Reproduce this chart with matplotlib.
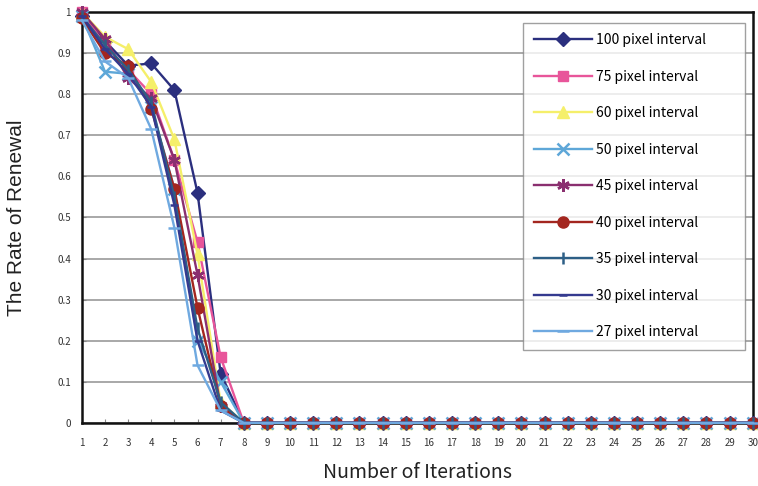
import matplotlib
matplotlib.use("Agg")
import matplotlib.pyplot as plt
import numpy as np

iterations = list(range(1, 31))
tail = [0.0] * 23  # iterations 8..30

labels = ["100 pixel interval", "75 pixel interval", "60 pixel interval",
          "50 pixel interval", "45 pixel interval", "40 pixel interval",
          "35 pixel interval", "30 pixel interval", "27 pixel interval"]

s100 = [0.99, 0.93, 0.87, 0.875, 0.81, 0.56, 0.12] + tail
s75 = [1.00, 0.92, 0.86, 0.80, 0.64, 0.44, 0.16] + tail
s60 = [1.00, 0.94, 0.91, 0.83, 0.69, 0.41, 0.05] + tail
s50 = [0.99, 0.855, 0.85, 0.77, 0.57, 0.20, 0.10] + tail
s45 = [1.00, 0.935, 0.84, 0.79, 0.64, 0.36, 0.04] + tail
s40 = [0.985, 0.90, 0.87, 0.765, 0.57, 0.28, 0.04] + tail
s35 = [0.99, 0.92, 0.86, 0.78, 0.55, 0.23, 0.05] + tail
s30 = [0.99, 0.91, 0.85, 0.77, 0.53, 0.20, 0.03] + tail
s27 = [0.98, 0.88, 0.84, 0.715, 0.475, 0.14, 0.03] + tail

series = [s100, s75, s60, s50, s45, s40, s35, s30, s27]
colors = ["#2b2f7e", "#e8559a", "#f5ef6a", "#5ea7d8", "#8a2f6f",
          "#a3261f", "#2d5f86", "#343a8f", "#6fa9e0"]
markers = ["D", "s", "^", "x", (6, 2, 0), "o", "|", "_", "_"]
msizes = [7, 7, 8, 8, 9, 8, 9, 6, 9]

fig = plt.figure(figsize=(7.58, 4.86), dpi=100)
ax = fig.add_axes([0.108, 0.13, 0.885, 0.845])

for ys, c, m, ms, lab in zip(series, colors, markers, msizes, labels):
    ax.plot(iterations, ys, color=c, marker=m, markersize=ms, linewidth=1.7,
            markeredgewidth=1.8 if m in ("x", "|", "_") or isinstance(m, tuple) else 1,
            label=lab, clip_on=False, zorder=3)

cjk = ["Noto Sans CJK JP", "DejaVu Sans"]
ax.set_xlim(1, 30)
ax.set_ylim(0, 1)
ax.set_xticks(iterations)
ax.set_xticklabels([str(i) for i in iterations], fontsize=7, family=cjk, color="#333333")
ax.set_yticks(np.arange(0, 1.01, 0.1))
ax.set_yticklabels(["0", "0.1", "0.2", "0.3", "0.4", "0.5", "0.6", "0.7",
                    "0.8", "0.9", "1"], fontsize=7, family=cjk, color="#333333")
ax.tick_params(axis="x", length=3, width=0.8, color="#888888", direction="in", pad=11)
ax.tick_params(axis="y", length=3, width=0.8, color="#888888", direction="in", pad=8)
ax.yaxis.grid(True, color="#999999", linewidth=1.2)
ax.set_axisbelow(True)
for sp in ax.spines.values():
    sp.set_linewidth(1.8)
    sp.set_color("#111111")

ax.set_ylabel("The Rate of Renewal", fontsize=15, family="Liberation Sans",
              labelpad=22, color="#222222")
ax.set_xlabel("Number of Iterations", fontsize=14, family=cjk,
              labelpad=10, color="#222222")

leg = ax.legend(loc="upper left", bbox_to_anchor=(0.658, 0.974, 0.331, 0.0),
                mode="expand", frameon=True, fancybox=False,
                edgecolor="#888888", handlelength=4.2, labelspacing=1.62,
                borderpad=0.75, handletextpad=0.3, borderaxespad=0.0,
                prop={"family": cjk, "size": 10})
leg.get_frame().set_linewidth(1.0)

fig.savefig("out.png", dpi=100)
